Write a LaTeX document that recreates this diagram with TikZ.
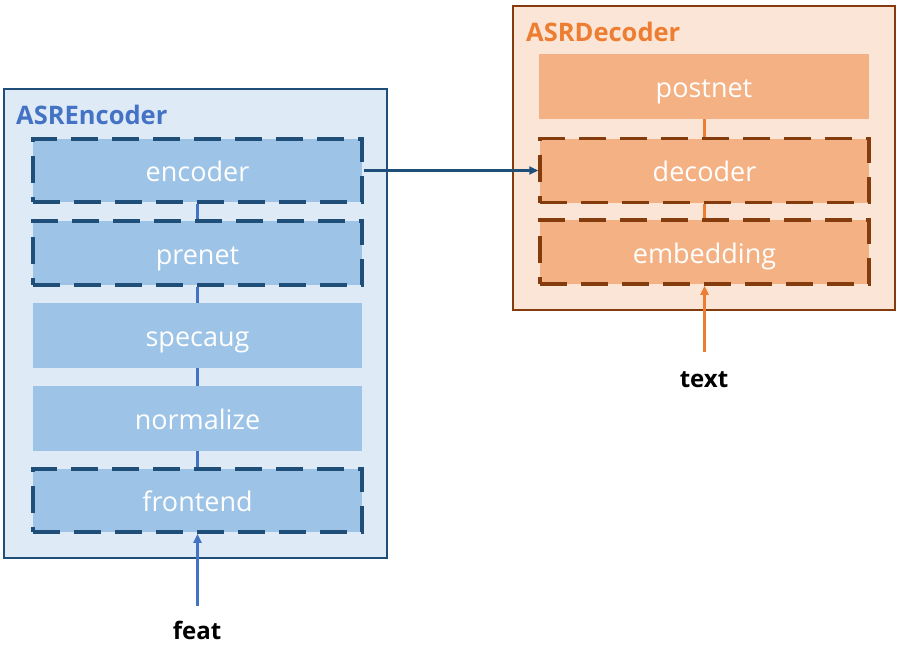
\documentclass[tikz,border=0pt]{standalone}
\usepackage{fontspec}
\setmainfont{Open Sans}
\usetikzlibrary{arrows.meta}
\definecolor{encfill}{HTML}{DEEAF6}
\definecolor{encline}{HTML}{1F4E79}
\definecolor{encbox}{HTML}{9DC3E6}
\definecolor{enctitle}{HTML}{4472C4}
\definecolor{decfill}{HTML}{FBE5D6}
\definecolor{decline}{HTML}{843C0C}
\definecolor{decbox}{HTML}{F4B183}
\definecolor{dectitle}{HTML}{ED7D31}
\tikzset{
  outerbox/.style={draw, line width=1.8pt, inner sep=0pt},
  layer/.style={inner sep=0pt, text=white, font=\fontsize{27}{30}\selectfont, text height=22pt, text depth=0pt},
  dashlayer/.style={layer, draw, line width=3.5pt, dash pattern=on 27pt off 14pt},
  titletext/.style={font=\bfseries\fontsize{25.5}{30}\selectfont, anchor=base west, inner sep=0pt},
  iotext/.style={font=\bfseries\fontsize{24}{28}\selectfont, inner sep=0pt, anchor=base}
}
\tikzset{
  link/.style={line width=2.5pt},
  tip/.style={-{Triangle[length=9pt,width=8pt]}, line width=2.5pt}
}
\begin{document}
\begin{tikzpicture}[x=1pt,y=-1pt]
\path[use as bounding box, fill=white] (0,0) rectangle (902,645);
% Encoder
\node[outerbox, draw=encline, fill=encfill, minimum width=383pt, minimum height=469pt] (encbox) at (195.5,323.5) {};
\node[titletext, text=enctitle] (enctitle) at (16,124) {ASREncoder};
\node[layer, fill=encbox, minimum width=329pt, minimum height=65pt] (specaug) at (197.5,335.5) {specaug};
\node[layer, fill=encbox, minimum width=329pt, minimum height=65pt] (normalize) at (197.5,418.5) {normalize};
\node[dashlayer, draw=encline, fill=encbox, minimum width=329pt, minimum height=63pt] (encoder) at (197.5,170.5) {encoder};
\node[dashlayer, draw=encline, fill=encbox, minimum width=329pt, minimum height=64pt] (prenet) at (197.5,253) {prenet};
\node[dashlayer, draw=encline, fill=encbox, minimum width=329pt, minimum height=63pt] (frontend) at (197.5,500.5) {frontend};
\draw[link, enctitle] (encoder.south) -- (prenet.north);
\draw[link, enctitle] (prenet.south) -- (specaug.north);
\draw[link, enctitle] (specaug.south) -- (normalize.north);
\draw[link, enctitle] (normalize.south) -- (frontend.north);
\node[iotext] (feat) at (197,639) {feat};
\coordinate (featstart) at (197.5,606);
\draw[tip, enctitle] (featstart) -- (frontend.south);
% Decoder
\node[outerbox, draw=decline, fill=decfill, minimum width=382pt, minimum height=304pt] (decbox) at (704,158) {};
\node[titletext, text=dectitle] (dectitle) at (526,41.5) {ASRDecoder};
\node[layer, fill=decbox, minimum width=330pt, minimum height=65pt] (postnet) at (704,86.5) {postnet};
\node[dashlayer, draw=decline, fill=decbox, minimum width=329pt, minimum height=64pt] (decoder) at (704.5,170.5) {decoder};
\node[dashlayer, draw=decline, fill=decbox, minimum width=329pt, minimum height=64pt] (embedding) at (704.5,252) {embedding};
\draw[link, dectitle] (postnet.south -| decoder.north) -- (decoder.north);
\draw[link, dectitle] (decoder.south) -- (embedding.north);
\node[iotext] (text) at (704,387) {text};
\coordinate (textstart) at (704.5,352);
\draw[tip, dectitle] (textstart) -- (embedding.south);
% cross link
\draw[tip, encline, line width=2.2pt] (encoder.east) -- (decoder.west);
\end{tikzpicture}
\end{document}
